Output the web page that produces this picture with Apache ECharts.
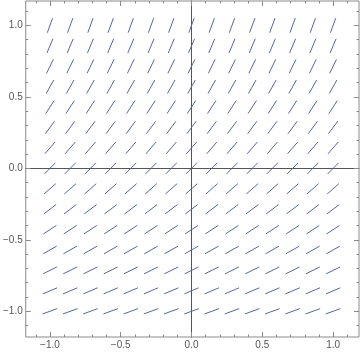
<!DOCTYPE html>
<html><head><meta charset="utf-8">
<script src="https://cdn.jsdelivr.net/npm/echarts@6/dist/echarts.min.js"></script>
<style>html,body{margin:0;padding:0;background:#fff}#c{width:360px;height:353px}</style>
</head><body><div id="c"></div>
<script>
// Grid point columns (x) and rows (y)
var xValues = [-1, -0.857, -0.714, -0.571, -0.429, -0.286, -0.143, 0, 0.143, 0.286, 0.429, 0.571, 0.714, 0.857, 1];
var yValues = [-1, -0.857, -0.714, -0.571, -0.429, -0.286, -0.143, 0, 0.143, 0.286, 0.429, 0.571, 0.714, 0.857, 1];
// Slope of the segments in each row (bottom to top)
var rowSlopes = [0.36, 0.42, 0.49, 0.56, 0.65, 0.75, 0.87, 1.0, 1.15, 1.33, 1.53, 1.77, 2.04, 2.36, 2.72];
// Tick labels
var majorTicks = [-1, -0.5, 0, 0.5, 1];
var minorTicks = [-1.1, -0.9, -0.8, -0.7, -0.6, -0.4, -0.3, -0.2, -0.1, 0.1, 0.2, 0.3, 0.4, 0.6, 0.7, 0.8, 0.9, 1.1];

var data = [];
for (var j = 0; j < yValues.length; j++) {
  for (var i = 0; i < xValues.length; i++) {
    data.push([xValues[i], yValues[j], rowSlopes[j]]);
  }
}

var SEG = 15.5;
var FRAME = '#8a8a8a';
var fmt = function (v) { var s = Math.abs(v).toFixed(1); return (v < 0 ? '\u2212' : '') + s; };
var XMIN = -1.171, XMAX = 1.183, YMIN = -1.18, YMAX = 1.171;

function tickAxis(pos, vals, len, labels, isX) {
  return {
    type: 'value', position: pos, min: isX ? XMIN : YMIN, max: isX ? XMAX : YMAX,
    axisLine: { show: false, onZero: false },
    axisTick: { show: true, inside: true, length: len, customValues: vals, lineStyle: { color: FRAME, width: 1 } },
    axisLabel: labels ? { show: true, customValues: vals, formatter: fmt, color: '#555', fontSize: 10,
      fontFamily: 'Liberation Sans, Arial, sans-serif', margin: 3 } : { show: false },
    splitLine: { show: false }
  };
}

var chart = echarts.init(document.getElementById('c'), null, { renderer: 'canvas' });
chart.setOption({
  animation: false,
  grid: { left: 23, right: 1, top: 1, bottom: 16, show: true, borderColor: FRAME, borderWidth: 1, backgroundColor: 'transparent' },
  xAxis: [
    { type: 'value', min: XMIN, max: XMAX, axisLine: { show: true, onZero: true, lineStyle: { color: '#555', width: 1 } },
      axisTick: { show: false }, axisLabel: { show: false }, splitLine: { show: false } },
    tickAxis('bottom', majorTicks, 5, true, true),
    tickAxis('bottom', minorTicks, 2.5, false, true),
    tickAxis('top', majorTicks, 5, false, true),
    tickAxis('top', minorTicks, 2.5, false, true)
  ],
  yAxis: [
    { type: 'value', min: YMIN, max: YMAX, axisLine: { show: true, onZero: true, lineStyle: { color: '#555', width: 1 } },
      axisTick: { show: false }, axisLabel: { show: false }, splitLine: { show: false } },
    tickAxis('left', majorTicks, 5, true, false),
    tickAxis('left', minorTicks, 2.5, false, false),
    tickAxis('right', majorTicks, 5, false, false),
    tickAxis('right', minorTicks, 2.5, false, false)
  ],
  series: [{
    type: 'custom', xAxisIndex: 0, yAxisIndex: 0, data: data, encode: { x: 0, y: 1 }, silent: true,
    renderItem: function (params, api) {
      var p = api.coord([api.value(0), api.value(1)]);
      var sz = api.size([1, 1]);
      var s = api.value(2);
      var ang = Math.atan2(s * sz[1], sz[0]);
      var dx = Math.cos(ang) * SEG / 2, dy = Math.sin(ang) * SEG / 2;
      return { type: 'line', shape: { x1: p[0] - dx, y1: p[1] + dy, x2: p[0] + dx, y2: p[1] - dy },
        style: { stroke: '#5068a0', lineWidth: 1 } };
    }
  }]
});
</script></body></html>
